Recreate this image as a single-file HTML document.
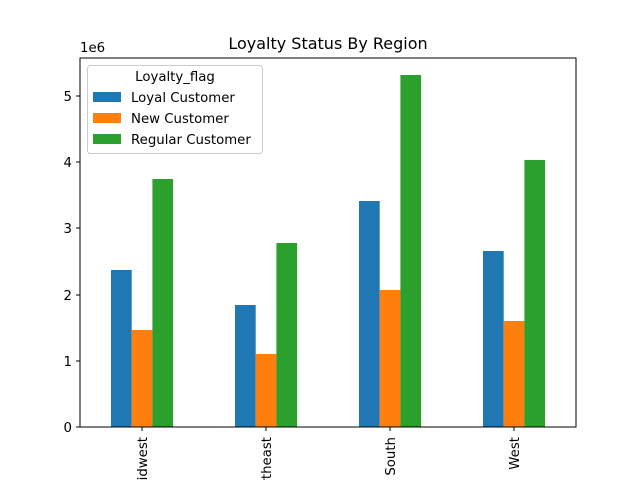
<!DOCTYPE html>
<html><head><meta charset="utf-8"><style>body{margin:0;background:#fff}svg{display:block}</style></head>
<body>
<svg width="640" height="480" xmlns="http://www.w3.org/2000/svg" font-family="DejaVu Sans, Liberation Sans, sans-serif" font-size="13.3">
<rect width="640" height="480" fill="#fff"/>
<text x="328" y="49" text-anchor="middle" font-size="16">Loyalty Status By Region</text>
<text x="80" y="52" font-size="13.3">1e6</text>
<g>
<rect x="111" y="270" width="20.7" height="157" fill="#1f77b4"/>
<rect x="131.7" y="330" width="20.7" height="97" fill="#ff7f0e"/>
<rect x="152.4" y="179" width="20.7" height="248" fill="#2ca02c"/>
<rect x="235" y="305" width="20.7" height="122" fill="#1f77b4"/>
<rect x="255.7" y="354" width="20.7" height="73" fill="#ff7f0e"/>
<rect x="276.4" y="243" width="20.7" height="184" fill="#2ca02c"/>
<rect x="359" y="201" width="20.7" height="226" fill="#1f77b4"/>
<rect x="379.7" y="290" width="20.7" height="137" fill="#ff7f0e"/>
<rect x="400.4" y="75" width="20.7" height="352" fill="#2ca02c"/>
<rect x="483" y="251" width="20.7" height="176" fill="#1f77b4"/>
<rect x="503.7" y="321" width="20.7" height="106" fill="#ff7f0e"/>
<rect x="524.4" y="160" width="20.7" height="267" fill="#2ca02c"/>
</g>
<rect x="80" y="58" width="496" height="369" fill="none" stroke="#000" stroke-width="1"/>
<g stroke="#000">
<line x1="76" y1="427" x2="80" y2="427"/><line x1="76" y1="361" x2="80" y2="361"/>
<line x1="76" y1="295" x2="80" y2="295"/><line x1="76" y1="228" x2="80" y2="228"/>
<line x1="76" y1="162" x2="80" y2="162"/><line x1="76" y1="96" x2="80" y2="96"/>
<line x1="142" y1="427" x2="142" y2="431"/><line x1="266" y1="427" x2="266" y2="431"/>
<line x1="390" y1="427" x2="390" y2="431"/><line x1="514" y1="427" x2="514" y2="431"/>
</g>
<g text-anchor="end">
<text x="72" y="432">0</text><text x="72" y="366">1</text><text x="72" y="300">2</text>
<text x="72" y="233">3</text><text x="72" y="167">4</text><text x="72" y="101">5</text>
</g>
<g text-anchor="end">
<text transform="translate(147,437) rotate(-90)">Midwest</text>
<text transform="translate(271,437) rotate(-90)">Northeast</text>
<text transform="translate(395,437) rotate(-90)">South</text>
<text transform="translate(519,437) rotate(-90)">West</text>
</g>
<rect x="87.5" y="65.5" width="175" height="88" rx="3" fill="#fff" fill-opacity="0.8" stroke="#ccc"/>
<text x="175" y="81" text-anchor="middle">Loyalty_flag</text>
<rect x="93" y="92" width="28" height="10" fill="#1f77b4"/>
<rect x="93" y="113" width="28" height="10" fill="#ff7f0e"/>
<rect x="93" y="134" width="28" height="10" fill="#2ca02c"/>
<text x="131" y="102">Loyal Customer</text>
<text x="131" y="123">New Customer</text>
<text x="131" y="144">Regular Customer</text>
</svg>
</body></html>
